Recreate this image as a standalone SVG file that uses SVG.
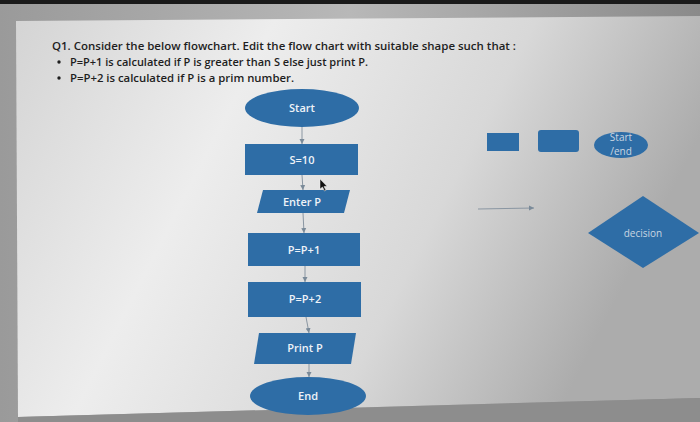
<svg xmlns="http://www.w3.org/2000/svg" width="700" height="422" viewBox="0 0 700 422">
<defs>
<linearGradient id="slide" x1="0" y1="0" x2="1" y2="0.3">
<stop offset="0" stop-color="#d4d4d4"/>
<stop offset="0.35" stop-color="#ededed"/>
<stop offset="0.7" stop-color="#d8d8d8"/>
<stop offset="1" stop-color="#acacac"/>
</linearGradient>
<linearGradient id="frame" x1="0" y1="0" x2="1" y2="0">
<stop offset="0" stop-color="#9a9a9a"/>
<stop offset="0.5" stop-color="#b8b8b8"/>
<stop offset="1" stop-color="#8a8a8a"/>
</linearGradient>
<marker id="ah" markerWidth="6" markerHeight="6" refX="5" refY="3" orient="auto" markerUnits="userSpaceOnUse">
<path d="M0,0.5 L5,3 L0,5.5 Z" fill="#7a8a99"/>
</marker>
<style>
.shape{fill:#2e6da6}
.lbl{font-family:"Open Sans","Liberation Sans",Arial,sans-serif;font-size:11px;font-weight:600;fill:#eef3f8;text-anchor:middle}
.q{font-family:"Open Sans","Liberation Sans",Arial,sans-serif;font-size:11px;font-weight:600;fill:#1e1e1e}
.conn{stroke:#8a96a2;stroke-width:1;fill:none;marker-end:url(#ah)}
</style>
</defs>
<rect x="0" y="0" width="700" height="422" fill="url(#frame)"/>
<rect x="0" y="0" width="700" height="4" fill="#1a1a1a"/>
<polygon points="16,21 700,16 700,398 18,417" fill="url(#slide)"/>
<polygon points="18,417 700,398 700,422 18,422" fill="#8d8d8d"/>

<g id="question">
<text class="q" x="52" y="50" textLength="464" lengthAdjust="spacingAndGlyphs">Q1. Consider the below flowchart. Edit the flow chart with suitable shape such that :</text>
<circle cx="59" cy="62" r="1.7" fill="#1e1e1e"/>
<text class="q" x="70" y="66" textLength="298" lengthAdjust="spacingAndGlyphs">P=P+1 is calculated if P is greater than S else just print P.</text>
<circle cx="59" cy="78" r="1.7" fill="#1e1e1e"/>
<text class="q" x="70" y="82" textLength="224" lengthAdjust="spacingAndGlyphs">P=P+2 is calculated if P is a prim number.</text>
</g>

<g id="connectors">
<line class="conn" x1="302" y1="127" x2="302" y2="144"/>
<line class="conn" x1="302" y1="175" x2="303" y2="190"/>
<line class="conn" x1="303" y1="213" x2="304" y2="233"/>
<line class="conn" x1="305" y1="266" x2="305" y2="282"/>
<line class="conn" x1="306" y1="317" x2="309" y2="333"/>
<line class="conn" x1="309" y1="364" x2="309" y2="377"/>
<line class="conn" x1="478" y1="209" x2="534" y2="208"/>
</g>

<g id="start"><ellipse class="shape" cx="302" cy="108" rx="57" ry="19"/><text class="lbl" x="302" y="112">Start</text></g>
<g id="s10"><rect class="shape" x="245" y="144" width="113" height="31"/><text class="lbl" x="302" y="164">S=10</text></g>
<g id="enterp"><polygon class="shape" points="263,190 350,190 344,213 257,213"/><text class="lbl" x="302" y="206">Enter P</text></g>
<g id="pp1"><rect class="shape" x="248" y="233" width="112" height="33"/><text class="lbl" x="304" y="254">P=P+1</text></g>
<g id="pp2"><rect class="shape" x="248" y="282" width="113" height="35"/><text class="lbl" x="305" y="303">P=P+2</text></g>
<g id="printp"><polygon class="shape" points="259,333 356,333 351,364 254,364"/><text class="lbl" x="305" y="352">Print P</text></g>
<g id="end"><ellipse class="shape" cx="308" cy="396" rx="58" ry="19"/><text class="lbl" x="308" y="400">End</text></g>

<g id="cursor"><polygon points="320,179 320,189 322.5,187 324.5,191 326,190.3 324,186.5 327,186.3" fill="#111" stroke="#eee" stroke-width="0.5"/></g>

<g id="legend-rect"><rect class="shape" x="487" y="133" width="32" height="18"/></g>
<g id="legend-roundrect"><rect class="shape" x="538" y="130" width="41" height="22" rx="3"/></g>
<g id="legend-startend"><ellipse class="shape" cx="621" cy="145" rx="27" ry="13"/><text class="lbl" x="621" y="141" style="font-size:10px;font-weight:400;fill:#c9d6e2">Start</text><text class="lbl" x="621" y="155" style="font-size:10px;font-weight:400;fill:#c9d6e2">/end</text></g>
<g id="legend-decision"><polygon class="shape" points="643,196 699,233 643,268 588,233"/><text class="lbl" x="643" y="237" style="font-size:10px;font-weight:400;fill:#c9d6e2">decision</text></g>
</svg>
